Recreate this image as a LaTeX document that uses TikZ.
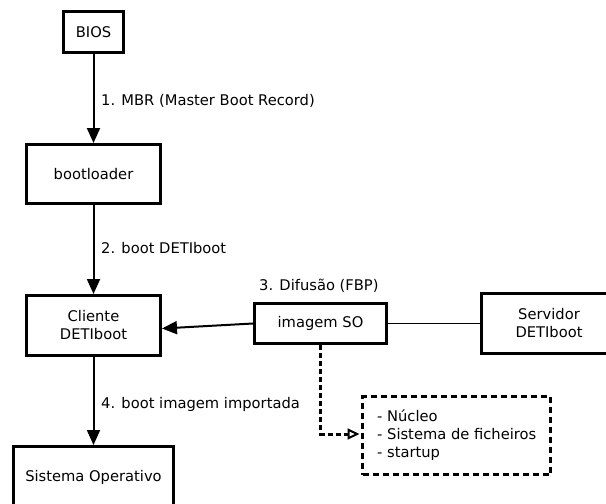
\documentclass[tikz,border=0pt]{standalone}
\usepackage{fontspec}
\setmainfont{DejaVu Sans}
\usetikzlibrary{arrows.meta}
\begin{document}
\begin{tikzpicture}[x=1pt,y=-1pt,
  every node/.style={font=\fontsize{14.7}{18}\selectfont},
  box/.style={draw, line width=3pt, inner sep=0pt, align=center},
  lbl/.style={anchor=base west, inner sep=0pt},
  flow/.style={line width=2pt, -{Triangle[length=15pt,width=13pt]}},
  link/.style={line width=1.5pt},
  dashline/.style={line width=3pt, dash pattern=on 5pt off 3pt},
  dashbox/.style={draw, line width=3pt, dash pattern=on 6pt off 4pt, inner sep=0pt}]
\fill[white] (0,0) rectangle (606,504);
\clip (0,0) rectangle (606,504);

% boot chain on the client side
\node[box, minimum width=60pt, minimum height=41pt] (bios) at (93.5,32) {BIOS};
\node[box, minimum width=134pt, minimum height=59pt] (boot) at (93.5,174) {bootloader};
\node[box, minimum width=134pt, minimum height=60pt] (cli) at (93.5,325.5) {Cliente\\DETIboot};
\node[box, minimum width=160pt, minimum height=62pt] (sys) at (93.5,477.5) {Sistema Operativo};

% image distribution
\node[box, minimum width=132pt, minimum height=40pt] (img) at (320.5,323.5) {imagem SO};
\node[box, minimum width=135pt, minimum height=60pt] (srv) at (549,323.5) {Servidor\\DETIboot};

% contents of the image
\node[dashbox, minimum width=188pt, minimum height=78pt] (det) at (456.5,435.5) {};
\node[anchor=west, inner sep=0pt, align=left] (detxt) at (377,435) {- Núcleo\\- Sistema de ficheiros\\- startup};

% connectors
\draw[flow] (bios) -- (boot);
\draw[flow] (boot) -- (cli);
\draw[flow] (cli) -- (sys);
\draw[flow] (img.west) -- ([yshift=-3pt]cli.east);
\draw[link] (img.east) -- (srv.west);
\draw[dashline, -{Triangle[open,length=12pt,width=11pt,line width=2pt]}]
  (img.south) |- ([xshift=-1.5pt,yshift=1.5pt]det.west);

% step labels
\node[lbl] (l1) at (101,105.5) {1. MBR (Master Boot Record)};
\node[lbl] (l2) at (101,253.5) {2. boot DETIboot};
\node[lbl] (l3) at (259,290.5) {3. Difusão (FBP)};
\node[lbl] (l4) at (101,408.5) {4. boot imagem importada};
\end{tikzpicture}
\end{document}
